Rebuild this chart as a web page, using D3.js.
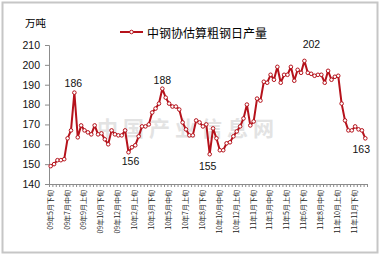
<!DOCTYPE html>
<html>
<head>
<meta charset="utf-8">
<script src="https://cdn.jsdelivr.net/npm/d3@7.9.0/dist/d3.min.js"></script>
<style>
  body { margin: 0; background: #fff; }
  text { font-family: "Liberation Sans", Arial, sans-serif; }
  .cjk { font-family: "Noto Sans CJK SC", sans-serif; }
</style>
</head>
<body>
<svg id="chart" width="382" height="257"></svg>
<script>
// 中钢协估算粗钢日产量 (万吨), ten-day periods from 09年5月下旬
const output = [
  149, 150, 152, 152, 152.5, 163, 167, 186, 163.5, 169.5,
  167, 166, 165, 169.5, 165, 165.5, 162.5, 160, 167, 165,
  164.5, 164.5, 167, 156, 158.5, 159.5, 164, 169, 169, 170,
  176, 178, 180.5, 188, 183.5, 180.5, 179, 179, 177.5, 171,
  167.5, 164.5, 164.5, 172, 171, 169, 170, 155, 168, 163,
  157, 157, 160.5, 161, 164, 166.5, 169, 173, 180, 169.5,
  171.5, 183, 182, 191.5, 191, 195, 192.5, 199, 191, 195,
  195, 199, 192, 197.5, 196, 202, 196, 195.5, 194.5, 195,
  195, 191, 197, 192.5, 194, 194.5, 180.5, 172, 167, 167,
  169, 167.5, 167, 163
];

// labels shown every 5th period
const tickLabels = [
  "09年5月下旬", "09年7月中旬", "09年9月上旬", "09年10月下旬", "09年12月中旬",
  "10年2月上旬", "10年3月下旬", "10年5月中旬", "10年7月上旬", "10年8月下旬",
  "10年10月中旬", "10年12月上旬", "11年1月下旬", "11年3月中旬", "11年5月上旬",
  "11年6月下旬", "11年8月中旬", "11年10月上旬", "11年11月下旬"
];
const labelStep = 5;

const yTicks = [140, 150, 160, 170, 180, 190, 200, 210];

// highlighted values: index, text, offset
const callouts = [
  { i: 7,  text: "186", dx: -1, dy: -6 },
  { i: 23, text: "156", dx: 2,  dy: 13 },
  { i: 33, text: "188", dx: 0,  dy: -5 },
  { i: 47, text: "155", dx: -2, dy: 16 },
  { i: 75, text: "202", dx: 7,  dy: -13 },
  { i: 93, text: "163", dx: -4, dy: 15 }
];

const seriesName = "中钢协估算粗钢日产量";
const unit = "万吨";
const red = "#b5121b";

const svg = d3.select("#chart");

// outer frame
svg.append("rect")
  .attr("x", 2.5).attr("y", 2.5)
  .attr("width", 375).attr("height", 250)
  .attr("fill", "#fff")
  .attr("stroke", "#c6c6c6")
  .attr("stroke-width", 2);

const plotLeft = 49, plotRight = 367, plotTop = 45, plotBottom = 184;

const x = d3.scaleBand().domain(d3.range(output.length)).range([plotLeft, plotRight]);
const xEdge = d3.scaleLinear().domain([0, output.length]).range([plotLeft, plotRight]);
const y = d3.scaleLinear().domain([140, 210]).range([plotBottom, plotTop]);
const cx = i => x(i) + x.bandwidth() / 2;

// watermark
svg.append("text")
  .attr("class", "cjk")
  .attr("x", 97).attr("y", 136)
  .attr("font-size", 21)
  .attr("font-weight", "bold")
  .attr("letter-spacing", 5)
  .attr("fill", "#e3e3e3")
  .text("中国产业信息网");

// y axis
const yAxis = svg.append("g")
  .attr("transform", `translate(${plotLeft},0)`)
  .call(d3.axisLeft(y).tickValues(yTicks).tickSize(4).tickPadding(5));
yAxis.select(".domain").attr("stroke", "#8c8c8c");
yAxis.selectAll(".tick line").attr("stroke", "#8c8c8c");
yAxis.selectAll("text")
  .attr("font-size", 10.5)
  .attr("fill", "#111")
  .style("font-family", "Liberation Sans, Arial, sans-serif");

// x axis: a tick between every period
const xAxis = svg.append("g")
  .attr("transform", `translate(0,${plotBottom})`)
  .call(d3.axisBottom(xEdge).tickValues(d3.range(output.length + 1)).tickFormat("").tickSize(3));
xAxis.select(".domain").attr("stroke", "#8c8c8c");
xAxis.selectAll(".tick line").attr("stroke", "#8c8c8c");

svg.append("g").selectAll("text")
  .data(tickLabels)
  .join("text")
  .attr("class", "cjk")
  .attr("transform", (d, k) => `translate(${cx(k * labelStep)},${plotBottom + 6}) rotate(-90)`)
  .attr("text-anchor", "end")
  .attr("dominant-baseline", "middle")
  .attr("font-size", 7)
  .attr("fill", "#222")
  .text(d => d);

// unit label
svg.append("text")
  .attr("class", "cjk")
  .attr("x", 25).attr("y", 27)
  .attr("font-size", 10.5)
  .text(unit);

// line + markers
const line = d3.line().x((d, i) => cx(i)).y(d => y(d));
svg.append("path")
  .datum(output)
  .attr("d", line)
  .attr("fill", "none")
  .attr("stroke", red)
  .attr("stroke-width", 2)
  .attr("stroke-linejoin", "round");

svg.append("g").selectAll("circle")
  .data(output)
  .join("circle")
  .attr("cx", (d, i) => cx(i))
  .attr("cy", d => y(d))
  .attr("r", 1.8)
  .attr("fill", "#fff")
  .attr("stroke", red)
  .attr("stroke-width", 1);

// value callouts
svg.append("g").selectAll("text")
  .data(callouts)
  .join("text")
  .attr("x", d => cx(d.i) + d.dx)
  .attr("y", d => y(output[d.i]) + d.dy)
  .attr("text-anchor", "middle")
  .attr("font-size", 10.5)
  .attr("fill", "#111")
  .text(d => d.text);

// legend
const lg = svg.append("g").attr("transform", "translate(120,32)");
lg.append("line").attr("x1", 0).attr("x2", 23).attr("stroke", red).attr("stroke-width", 2);
lg.append("circle").attr("cx", 11.5).attr("r", 1.8).attr("fill", "#fff").attr("stroke", red);
lg.append("text")
  .attr("class", "cjk")
  .attr("x", 27).attr("y", 0)
  .attr("dominant-baseline", "central")
  .attr("font-size", 12)
  .text(seriesName);
</script>
</body>
</html>
